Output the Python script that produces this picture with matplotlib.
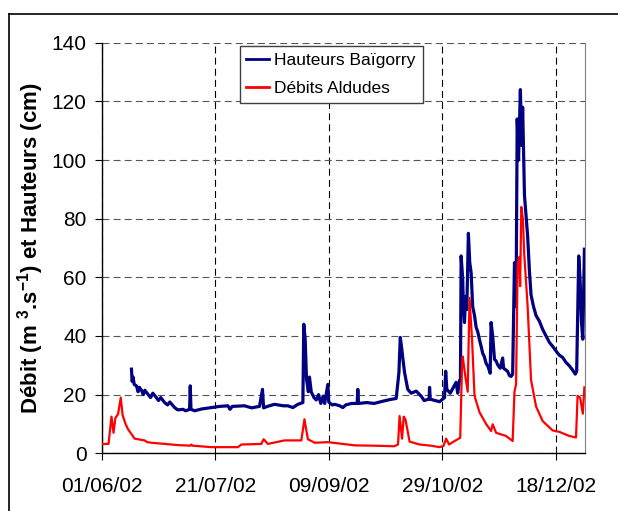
import datetime as dt
import matplotlib
matplotlib.use("Agg")
import matplotlib.pyplot as plt
import matplotlib.dates as mdates
from matplotlib.lines import Line2D

plt.rcParams['font.family'] = ['Liberation Sans', 'DejaVu Sans']
plt.rcParams['mathtext.fontset'] = 'custom'
plt.rcParams['mathtext.rm'] = 'Liberation Sans'
plt.rcParams['mathtext.bf'] = 'Liberation Sans:bold'
plt.rcParams['lines.scale_dashes'] = False

# jours depuis le 01/06/02 et hauteurs (cm) a Baigorry
jours_h = [13.1, 13.4, 13.8, 14.3, 15.3, 16.0, 16.6, 17.5, 18.3, 19.0, 20.4, 21.5, 22.5,
           24.1, 25.0, 26.0, 27.7, 29.0, 30.0, 32.1, 33.5, 35.8, 37.0, 38.7, 39.0, 39.3,
           41.0, 43.9, 48.3, 52.0, 55.6, 56.5, 57.5, 62.9, 66.0, 69.5, 70.8, 71.3, 73.0,
           76.1, 80.0, 82.0, 84.2, 86.4, 88.6, 89.0, 89.6, 90.2, 91.0, 91.5, 92.3, 93.5,
           94.5, 95.5, 96.5, 97.5, 98.2, 99.6, 100.0, 101.5, 102.6, 104.8, 106.2, 107.5,
           110.0, 112.5, 112.8, 113.1, 116.7, 120.0, 124.0, 126.8, 129.7, 130.9, 131.5,
           132.1, 132.6, 133.4, 134.8, 136.3, 138.5, 140.7, 142.0, 144.2, 144.4, 144.7,
           145.8, 148.8, 151.0, 151.5, 152.0, 153.5, 156.1, 156.8, 157.6, 158.0, 158.3,
           159.0, 159.3, 159.8, 160.2, 160.8, 161.5, 162.1, 162.7, 163.4, 164.2, 164.9,
           165.6, 166.4, 167.1, 167.8, 168.5, 169.3, 170.2, 171.1, 171.5, 172.2, 173.0,
           173.7, 174.4, 175.5, 176.6, 177.0, 177.9, 178.8, 179.6, 180.3, 181.0, 181.8,
           182.2, 182.5, 183.0, 183.6, 184.4, 185.0, 185.4, 186.2, 187.0, 187.6, 188.4,
           189.1, 190.2, 191.3, 192.8, 194.2, 195.7, 197.2, 198.6, 200.1, 201.5, 203.0,
           204.5, 206.0, 207.3, 208.6, 209.2, 210.1, 210.7, 211.3, 211.9, 212.6]
hauteurs = [28.7, 24.5, 26.0, 23.5, 23.0, 21.0, 22.5, 21.5, 20.0, 21.5, 20.1, 19.0, 20.5,
            19.0, 18.0, 19.0, 17.3, 16.5, 17.5, 15.6, 14.8, 15.0, 14.5, 15.0, 23.0, 15.0,
            14.5, 15.1, 15.6, 16.0, 16.2, 15.0, 16.0, 16.2, 15.5, 16.0, 21.8, 15.5, 16.0,
            16.7, 16.2, 16.2, 15.6, 16.7, 17.3, 44.0, 39.0, 25.3, 21.0, 26.0, 20.9, 19.0,
            18.2, 20.0, 17.0, 19.5, 17.0, 23.5, 17.5, 16.5, 16.7, 16.2, 15.6, 16.5,
            17.0, 17.0, 21.8, 17.0, 17.3, 17.0, 17.8, 18.3, 18.7, 27.5, 39.5,
            36.0, 32.5, 27.5, 21.8, 20.5, 21.2, 19.5, 18.0, 18.5, 22.5, 18.5,
            18.2, 17.6, 19.0, 28.0, 21.8, 20.5, 24.2, 20.5, 24.8, 25.0, 67.3,
            59.4, 50.0, 44.6, 53.5, 49.0, 75.0, 65.0, 61.7, 50.0, 47.0, 43.0,
            41.5, 38.7, 36.5, 34.1, 33.0, 30.7, 29.5, 27.3, 44.6, 40.0, 32.0,
            31.5, 30.2, 29.0, 32.5, 29.0, 28.5, 27.9, 26.5, 26.2, 27.0, 65.0,
            60.0, 50.0, 114.0, 100.0, 124.0, 105.0, 118.0, 88.0, 80.0, 74.0, 62.0,
            54.0, 50.0, 47.0, 45.0, 42.3, 40.0, 37.8, 36.5, 34.9, 33.5, 32.7,
            31.0, 29.8, 28.5, 27.0, 28.0, 67.3, 59.4, 45.0, 38.9, 69.6]

# jours depuis le 01/06/02 et debits (m3/s) aux Aldudes
jours_q = [0.0, 3.0, 4.3, 5.2, 6.0, 7.2, 8.4, 9.2, 10.5, 11.6, 14.5, 18.9, 20.0, 21.9,
           33.6, 39.0, 39.5, 40.0, 48.3, 60.0, 61.5, 70.3, 71.3, 73.2, 80.5, 87.9, 89.3,
           90.8, 93.8, 99.6, 106.2, 111.5, 120.0, 128.8, 130.5, 131.2, 132.3, 133.0,
           133.8, 135.6, 140.0, 145.0, 148.8, 150.5, 151.7, 153.0, 155.0, 157.9, 158.7,
           159.0, 160.2, 161.2, 162.0, 163.1, 164.2, 166.4, 169.3, 171.5, 172.2, 173.7,
           178.1, 181.0, 181.8, 182.5, 183.2, 184.0, 184.3, 184.8, 185.5, 186.1, 187.6,
           189.1, 191.3, 194.2, 198.6, 201.6, 206.0, 208.9, 209.6, 210.7, 211.9, 212.6]
debits = [3.2, 3.2, 12.5, 7.0, 12.0, 13.4, 19.0, 13.0, 10.0, 8.2, 5.0, 4.4, 3.8, 3.6,
          2.8, 2.6, 3.0, 2.6, 2.1, 2.1, 3.0, 3.2, 4.8, 3.2, 4.4, 4.4, 11.6,
          4.8, 3.6, 3.8, 3.2, 2.7, 2.6, 2.4, 3.0, 12.7, 5.0, 12.5,
          11.5, 4.0, 3.0, 2.6, 2.1, 2.5, 5.0, 3.0, 4.0, 5.3, 30.0,
          33.0, 26.0, 21.0, 53.0, 39.0, 19.6, 14.0, 10.0, 7.6, 9.9, 7.0,
          5.9, 4.2, 21.0, 23.5, 65.0, 67.0, 57.0, 84.0, 80.0, 68.0, 50.0,
          25.0, 16.0, 11.0, 7.8, 7.3, 5.9, 5.4, 19.6, 19.0, 13.5, 22.5]

dates_ticks = ['01/06/02', '21/07/02', '09/09/02', '29/10/02', '18/12/02']
y_ticks = [0, 20, 40, 60, 80, 100, 120, 140]

debut = mdates.date2num(dt.datetime(2002, 6, 1))
xh = [debut + j for j in jours_h]
xq = [debut + j for j in jours_q]
xt = [mdates.date2num(dt.datetime.strptime(d, '%d/%m/%y')) for d in dates_ticks]

fig = plt.figure(figsize=(6.18, 5.11), dpi=100)
ax = fig.add_axes([0.1646, 0.1129, 0.7825, 0.8035])

ax.plot(xh, hauteurs, color='#000080', lw=2.3, label='Hauteurs Baïgorry', zorder=3)
ax.plot(xq, debits, color='#ff0000', lw=1.6, label='Débits Aldudes', zorder=4)

ax.set_xlim(debut, debut + 213)
ax.set_ylim(0, 140)
ax.set_xticks(xt)
ax.set_xticklabels(dates_ticks)
ax.set_yticks(y_ticks)

ax.grid(axis='y', color='#555555', lw=0.8, linestyle=(0, (5, 3)))
ax.grid(axis='x', color='black', lw=0.8, linestyle=(0, (5, 3)))
ax.set_axisbelow(True)

ax.spines['top'].set_visible(False)
ax.spines['right'].set_color('#808080')
ax.spines['left'].set_linewidth(1.0)
ax.spines['bottom'].set_linewidth(1.0)
ax.tick_params(axis='y', direction='out', length=5, width=0.8, pad=6, labelsize=15)
ax.tick_params(axis='x', direction='out', length=5, width=0.8, pad=12, labelsize=15)

ax.set_ylabel(r'Débit (m $^{\mathbf{3}}$.s$^{\mathbf{-1}}$) et Hauteurs (cm)',
              fontsize=16, fontweight='bold')
ax.yaxis.set_label_coords(-0.115, 0.5)

leg = ax.legend(loc='upper left', bbox_to_anchor=(0.285, 0.993), borderaxespad=0,
                fontsize=12.5, frameon=True, fancybox=False, framealpha=1,
                edgecolor='#404040', handlelength=1.3, handletextpad=0.3,
                labelspacing=0.75, borderpad=0.4)
leg.get_frame().set_linewidth(1.0)
for h in leg.get_lines():
    h.set_linewidth(2.0)

# cadre exterieur
fig.add_artist(Line2D([9 / 618, 9 / 618], [0, 1 - 14 / 511], color='black', lw=1.2))
fig.add_artist(Line2D([9 / 618, 1], [1 - 14 / 511, 1 - 14 / 511], color='black', lw=1.2))

fig.savefig('out.png', dpi=100)
